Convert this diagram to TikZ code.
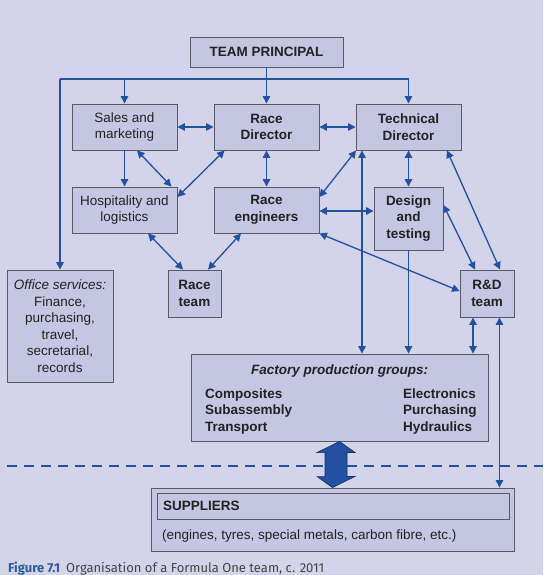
\documentclass[tikz,border=0pt]{standalone}
\usepackage{fontspec}
\setmainfont{Liberation Sans}
\newfontfamily\capfont[Numbers=Lining]{Fira Sans}
\usetikzlibrary{arrows.meta,calc}
\definecolor{bgc}{HTML}{D3D4EA}
\definecolor{boxc}{HTML}{C5C6E2}
\definecolor{linec}{HTML}{5A5A66}
\definecolor{arrc}{HTML}{2350A0}
\definecolor{capblue}{HTML}{2A5CA8}
\definecolor{txtc}{HTML}{222222}
\begin{document}
\begin{tikzpicture}[x=1pt,y=-1pt,
  box/.style={draw=linec,fill=boxc,line width=0.9pt,inner sep=0pt,align=center,
    text=txtc,font=\fontsize{13.5}{16.5}\selectfont},
  bbox/.style={box,font=\fontsize{13.5}{16.5}\selectfont\bfseries},
  conn/.style={draw=arrc,line width=1.3pt},
  da/.style={conn,{Triangle[length=7.5pt,width=7.5pt]}-{Triangle[length=7.5pt,width=7.5pt]}},
  sa/.style={conn,-{Triangle[length=7.5pt,width=7.5pt]}},
  txt/.style={text=txtc,inner sep=0pt,anchor=base west,font=\fontsize{13.5}{16.5}\selectfont\bfseries}]
\fill[bgc] (0,0) rectangle (543,575);
\useasboundingbox (0,0) rectangle (543,575);

% dashed boundary
\coordinate (dl) at (7,466);
\coordinate (dr) at (543,466);
\draw[arrc,line width=1.3pt,dash pattern=on 10pt off 7pt] (dl) -- (dr);

% boxes
\node[bbox,minimum width=153pt,minimum height=30pt] (tp) at (266.5,52) {TEAM PRINCIPAL};
\node[box,minimum width=105pt,minimum height=46pt] (sales) at (124.5,127) {Sales and\\marketing};
\node[bbox,minimum width=105pt,minimum height=46pt] (rd) at (266.5,127) {Race\\Director};
\node[bbox,minimum width=105pt,minimum height=46pt] (td) at (408.5,127) {Technical\\Director};
\node[box,minimum width=105pt,minimum height=46pt] (hosp) at (124.5,210) {Hospitality and\\logistics};
\node[bbox,minimum width=105pt,minimum height=46pt] (reng) at (266.5,210) {Race\\engineers};
\node[bbox,minimum width=69pt,minimum height=63pt] (design) at (408.5,218.5) {Design\\and\\testing};
\node[bbox,minimum width=53pt,minimum height=47pt] (rt) at (194.5,293.5) {Race\\team};
\node[bbox,minimum width=54pt,minimum height=47pt] (rnd) at (487,293.5) {R\&D\\team};
\node[box,minimum width=106pt,minimum height=112pt] (office) at (60,326) {\textit{Office services:}\\Finance,\\purchasing,\\travel,\\secretarial,\\records};
\node[box,minimum width=297pt,minimum height=87pt] (factory) at (339.5,397.5) {};
\node[box,minimum width=363pt,minimum height=63pt] (supo) at (332.5,519.5) {};
\node[bbox,minimum width=352pt,minimum height=26pt,text width=340pt,align=left] (supi) at (333,506) {SUPPLIERS};

% factory text
\node[txt,anchor=base] (ftitle) at (339.5,374) {\itshape Factory production groups:};
\node[txt] (c1) at (205,398) {Composites};
\node[txt] (c2) at (205,414.5) {Subassembly};
\node[txt] (c3) at (205,431) {Transport};
\node[txt] (c4) at (403,398) {Electronics};
\node[txt] (c5) at (403,414.5) {Purchasing};
\node[txt] (c6) at (403,431) {Hydraulics};
\node[txt,font=\fontsize{13.5}{16.5}\selectfont] (supt) at (162,539) {(engines, tyres, special metals, carbon fibre, etc.)};

% caption
\node[inner sep=0pt,anchor=base west,font=\capfont\fontsize{13}{15}\selectfont] (cap) at (8,572)
  {\textcolor{capblue}{\bfseries Figure 7.1}\hspace{6pt}\textcolor{txtc!85}{Organisation of a Formula One team, c. 2011}};

% team principal distribution
\coordinate (hl) at (60,79);
\coordinate (hr) at (408.5,79);
\draw[conn] (tp.south) -- (tp.south |- hl);
\draw[conn] (hl) -- (hr);
\draw[sa] (tp.south |- hl) -- (rd.north);
\draw[sa] (sales.north |- hl) -- (sales.north);
\draw[sa] (hr) -- (td.north);
\draw[sa] (hl) -- (hl |- office.north);

% top row
\draw[da] (sales.east) -- (rd.west);
\draw[da] (rd.east) -- (td.west);
\draw[sa] (sales.south) -- (hosp.north);
\draw[da] ([xshift=12.5pt]sales.south) -- ([xshift=-6pt]hosp.north east);
\draw[da] ([xshift=11pt]rd.south west) -- ([yshift=13pt]hosp.east);
\draw[da] (rd.south) -- (reng.north);
\draw[da] ([xshift=0.5pt]td.south west) -- ([yshift=13pt]reng.east);
\draw[da] (td.south) -- (design.north);
\draw[da] ([xshift=38.5pt]td.south) -- ([xshift=13pt]rnd.north);

% vertical from technical director to factory
\coordinate (vx) at (362,0);
\draw[da] (vx |- td.south) -- (vx |- factory.north);

% middle
\draw[da] ([yshift=-1pt]reng.east) -- ([yshift=-1pt]reng.east -| design.west);
\draw[da] ([yshift=13.5pt]design.east) -- ([xshift=-12pt]rnd.north);
\draw[da] ([xshift=23.5pt]hosp.south) -- ([xshift=-11.5pt]rt.north);
\draw[da] ([xshift=-25.5pt]reng.south) -- ([xshift=13.5pt]rt.north);
\draw[da] (reng.south east) -- ([yshift=2.5pt]rnd.west);
\draw[sa] (design.south) -- (design.south |- factory.north);

% R&D links
\coordinate (rx1) at (473,0);
\coordinate (rx2) at (499.5,0);
\draw[da] (rx1 |- rnd.south) -- (rx1 |- factory.north);
\draw[da] (rx2 |- rnd.south) -- (rx2 |- supo.north);

% big double arrow
\draw[draw=arrc!60!black,fill=arrc,line width=0.6pt,line join=miter]
  (factory.south) -- ++(15.5,11) -- ++(-8,0) -- ++(0,24) -- ++(8,0) -- (supo.north)
  -- ++(-15.5,-11) -- ++(8,0) -- ++(0,-24) -- ++(-8,0) -- cycle;
\end{tikzpicture}
\end{document}
